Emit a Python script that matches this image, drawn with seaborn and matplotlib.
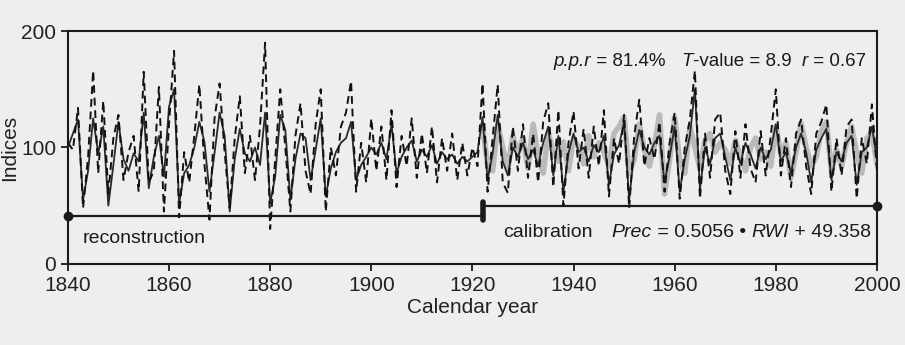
import numpy as np
import pandas as pd
import matplotlib
matplotlib.use('Agg')
import matplotlib.pyplot as plt
import seaborn as sns

# Reconstructed index (solid black), 1840-2000
years = np.arange(1840, 2001)
recon = [
    100, 112, 124, 55, 80, 125, 95, 118, 50, 85,
    122, 90, 80, 95, 88, 130, 65, 92, 110, 75,
    135, 150, 52, 78, 85, 100, 122, 105, 62, 95,
    130, 110, 45, 90, 116, 95, 88, 100, 85, 130,
    52, 75, 128, 115, 55, 90, 112, 108, 72, 98,
    125, 58, 82, 96, 104, 108, 122, 72, 85, 92,
    100, 94, 104, 90, 120, 78, 92, 100, 106, 88,
    98, 92, 102, 86, 96, 90, 94, 86, 92, 88,
    92, 96, 126, 72, 95, 128, 88, 76, 100, 92,
    104, 90, 98, 84, 104, 118, 76, 110, 62, 95,
    112, 96, 100, 88, 102, 96, 110, 68, 94, 102,
    122, 55, 96, 115, 100, 94, 104, 110, 70, 92,
    118, 62, 90, 110, 150, 64, 100, 86, 108, 112,
    92, 72, 100, 86, 104, 94, 82, 100, 90, 98,
    120, 88, 96, 78, 100, 112, 96, 70, 98, 108,
    116, 72, 96, 88, 104, 110, 68, 96, 100, 118,
    90,
]

# Ring-width index (dashed), 1840-2000
rwi = [
    104, 98, 134, 48, 92, 166, 78, 140, 60, 108,
    128, 72, 96, 110, 62, 165, 70, 80, 152, 45,
    120, 183, 40, 96, 70, 110, 154, 86, 38, 125,
    155, 96, 48, 108, 144, 78, 110, 72, 118, 190,
    30, 90, 150, 100, 45, 110, 138, 80, 60, 120,
    150, 45, 100, 76, 118, 130, 157, 62, 104, 70,
    125, 80, 118, 72, 132, 66, 110, 84, 125, 74,
    112, 78, 118, 70, 108, 80, 112, 72, 104, 76,
    100, 84, 155, 62, 108, 154, 70, 61, 118, 80,
    120, 74, 112, 70, 122, 138, 66, 132, 50, 104,
    131, 82, 116, 74, 118, 84, 132, 58, 108, 86,
    128, 48, 110, 141, 84, 108, 90, 122, 62, 104,
    130, 56, 100, 124, 166, 56, 112, 74, 124, 130,
    80, 60, 114, 74, 120, 82, 70, 114, 76, 110,
    150, 76, 108, 66, 112, 124, 84, 60, 112, 122,
    137, 62, 108, 76, 118, 124, 56, 108, 86, 137,
    80,
]

# Observed precipitation index (grey), 1922-2000
obs_years = np.arange(1922, 2001)
observed = [
    118, 85, 80, 120, 100, 82, 110, 95,
    108, 82, 120, 92, 78, 112, 96, 88, 105, 80,
    108, 100, 86, 110, 92, 104, 96, 84, 112, 118,
    126, 78, 90, 120, 98, 84, 102, 128, 60, 90,
    126, 88, 78, 118, 100, 82, 106, 112, 96, 104,
    98, 86, 106, 92, 80, 100, 108, 90, 96, 84,
    118, 94, 104, 74, 96, 121, 100, 84, 92, 114,
    122, 80, 98, 84, 104, 118, 94, 78, 108, 112,
    86,
]

# periods: reconstruction / calibration
period_x = [[1840, 1922], [1922, 2000]]
period_y = [[41, 41], [50, 50]]

df = pd.DataFrame({'year': years, 'recon': recon, 'rwi': rwi})
obs = pd.DataFrame({'year': obs_years, 'obs': observed})

sns.set_theme(style='ticks')
plt.rcParams['font.family'] = ['Liberation Sans', 'DejaVu Sans']

bg = '#eeeeec'
ink = '#1a1a1a'
fig = plt.figure(figsize=(9.05, 3.45), dpi=100, facecolor=bg)
ax = fig.add_axes([0.075, 0.235, 0.894, 0.675], facecolor=bg)

sns.lineplot(data=obs, x='year', y='obs', ax=ax, color='#bababa', lw=4, zorder=2)
sns.lineplot(data=df, x='year', y='recon', ax=ax, color='#2a2a2a', lw=1.3, zorder=3)
sns.lineplot(data=df, x='year', y='rwi', ax=ax, color='#111111', lw=1.4,
             linestyle=(0, (4, 2.5)), zorder=4)

for px, py in zip(period_x, period_y):
    ax.plot(px, py, color=ink, lw=1.6, zorder=5)
ax.plot([period_x[0][0]], [period_y[0][0]], 'o', color=ink, ms=6, zorder=6, clip_on=False)
ax.plot([period_x[1][1]], [period_y[1][1]], 'o', color=ink, ms=6, zorder=6, clip_on=False)
ax.plot([1922, 1922], [38, 53], color=ink, lw=4, solid_capstyle='round', zorder=6)


def chain(x, y, parts, size=14):
    # write pieces one after another, italic where asked
    prev = None
    for s, it in parts:
        style = 'italic' if it else 'normal'
        if prev is None:
            prev = ax.text(x, y, s, fontsize=size, fontstyle=style, va='center',
                           ha='left', color=ink, zorder=7)
        else:
            prev = ax.annotate(s, xy=(1, 0.5), xycoords=prev, fontsize=size,
                               fontstyle=style, va='center', ha='left', color=ink,
                               zorder=7)


ax.text(1843, 22, 'reconstruction', fontsize=14, va='center', ha='left', color=ink)
ax.text(1926, 27, 'calibration', fontsize=14, va='center', ha='left', color=ink)
chain(1947.5, 27, [('Prec', True), (' = 0.5056 • ', False), ('RWI', True),
                   (' + 49.358', False)])
chain(1936, 174, [('p.p.r', True), (' = 81.4%   ', False), ('T', True),
                  ('-value = 8.9  ', False), ('r', True), (' = 0.67', False)],
      size=13.5)

ax.set_xlim(1840, 2000)
ax.set_ylim(0, 200)
ax.set_xticks(range(1840, 2001, 20))
ax.set_yticks([0, 100, 200])
ax.tick_params(labelsize=15, length=5, width=1.3, color=ink, labelcolor='#222222')
for s in ax.spines.values():
    s.set_visible(True)
    s.set_linewidth(1.5)
    s.set_color(ink)
ax.set_xlabel('Calendar year', fontsize=15, color='#222222', labelpad=2)
ax.set_ylabel('Indices', fontsize=15, color='#222222', labelpad=1)

fig.savefig('out.png', dpi=100, facecolor=bg)
